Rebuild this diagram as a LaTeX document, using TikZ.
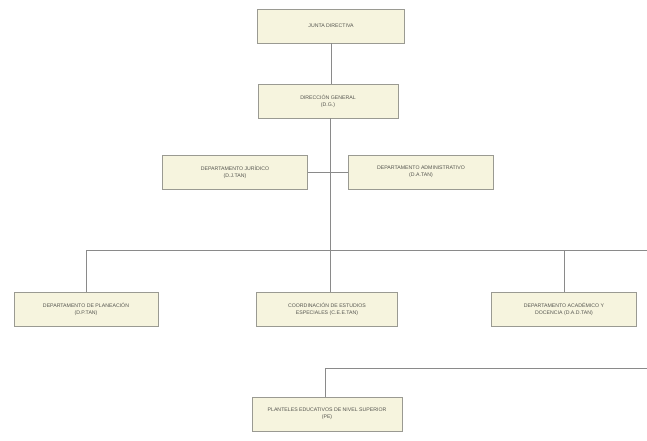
\documentclass[tikz,border=0pt]{standalone}
\usepackage{fontspec}
\setmainfont{Liberation Sans}
\usetikzlibrary{shadows}
\definecolor{boxfill}{HTML}{F6F4DE}
\definecolor{boxline}{HTML}{9A9A92}
\definecolor{linkc}{HTML}{8A8A8A}
\definecolor{txt}{HTML}{55554F}
\begin{document}
\begin{tikzpicture}[x=1pt,y=-1pt,
  orgbox/.style={draw=boxline, line width=0.8pt, fill=boxfill, minimum height=34pt,
    align=center, font=\fontsize{5.2}{6.6}\selectfont, text=txt,
    drop shadow={shadow xshift=0.4pt, shadow yshift=-1.2pt, fill=gray!70, opacity=0.8}},
  link/.style={draw=linkc, line width=0.8pt}]
\useasboundingbox (0,0) rectangle (647,441);
\node[orgbox, minimum width=147pt] (jd) at (331,26) {JUNTA DIRECTIVA};
\node[orgbox, minimum width=140pt] (dg) at (328,101) {DIRECCIÓN GENERAL\\(D.G.)};
\node[orgbox, minimum width=145pt] (dj) at (235,172) {DEPARTAMENTO JURÍDICO\\(D.J.TAN)};
\node[orgbox, minimum width=145pt] (da) at (421,172) {DEPARTAMENTO ADMINISTRATIVO\\(D.A.TAN)};
\node[orgbox, minimum width=144pt] (dp) at (86,309) {DEPARTAMENTO DE PLANEACIÓN\\(D.P.TAN)};
\node[orgbox, minimum width=141pt] (ce) at (327,309) {COORDINACIÓN DE ESTUDIOS\\ESPECIALES (C.E.E.TAN)};
\node[orgbox, minimum width=145pt] (ad) at (564,309) {DEPARTAMENTO ACADÉMICO Y\\DOCENCIA (D.A.D.TAN)};
\node[orgbox, minimum width=150pt] (pe) at (327,414) {PLANTELES EDUCATIVOS DE NIVEL SUPERIOR\\(PE)};
\coordinate (bus) at (330,250);
\coordinate (busR) at (647,250);
\coordinate (low) at (325,368);
\coordinate (lowR) at (647,368);
\draw[link] (jd.south) -- (dg.north -| jd.south);
\draw[link] (dg.south -| bus) -- (bus);
\draw[link] (dj.east) -- (da.west);
\draw[link] (dp.north) |- (busR);
\draw[link] (bus) -- (bus |- ce.north);
\draw[link] (ad.north) -- (ad.north |- bus);
\draw[link] (lowR) -- (low) -- (low |- pe.north);
\end{tikzpicture}
\end{document}
